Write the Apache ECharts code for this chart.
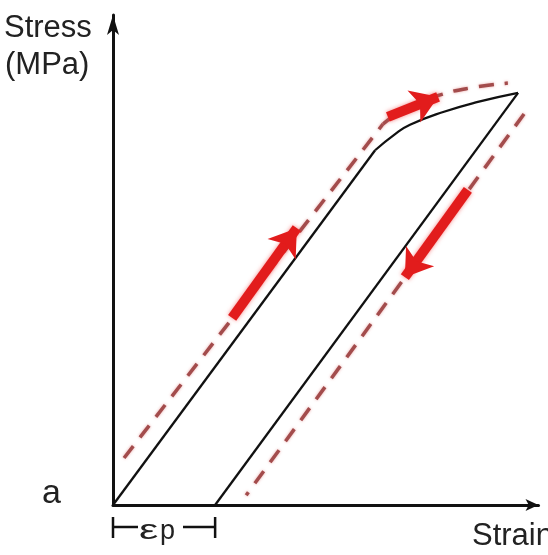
<!DOCTYPE html>
<html>
<head>
<meta charset="utf-8">
<script src="https://cdn.jsdelivr.net/npm/echarts@6/dist/echarts.min.js"></script>
<style>
html,body{margin:0;padding:0;background:#fff;}
#c{width:548px;height:555px;}
</style>
</head>
<body>
<div id="c"></div>
<script>
// Data (arbitrary strain / stress units, axes 0..100)
const loadingLine = [[0, 0], [61.6, 72.4]];
const hardeningCurve = [[61.6, 72.4], [66.3, 75.7], [69.8, 77.6], [77.6, 80.2], [85.5, 82.2], [95.2, 84.1]];
const unloadingLine = [[95.2, 84.1], [24.0, 0]];
const dashedLoading = [[2.6, 9.6], [63.5, 77.8]];
const dashedCurve = [[63.5, 77.8], [69.8, 81.4], [76.9, 83.7], [83.9, 85.1], [92.8, 86.1]];
const dashedUnloading = [[96.6, 79.8], [31.3, 2.0]];
const arrowLoading = [[28.0, 38.2], [43.2, 56.5]];
const arrowHardening = [[64.6, 79.2], [76.4, 83.3]];
const arrowUnloading = [[83.4, 64.3], [68.6, 46.5]];
const plasticStrain = 24.0;
const yTitle = ['Stress', '(MPa)'];
const xTitle = 'Strain';
const panelLabel = 'a';
const strainSymbol = 'ε';
const strainSub = 'p';

const chart = echarts.init(document.getElementById('c'), null, {renderer: 'canvas'});
const FONT = '"Liberation Sans", Arial, sans-serif';
const black = '#111';
const dashColor = '#a34c4c';
const red = '#e21c1c';

function solid(data, smooth) {
  return {type: 'line', data: data, smooth: smooth || false, symbol: 'none', silent: true,
    lineStyle: {color: black, width: 2.3}, z: 3};
}
function dashed(data, smooth) {
  return {type: 'line', data: data, smooth: smooth || false, symbol: 'none', silent: true,
    lineStyle: {color: dashColor, width: 3.5, type: [15, 11], shadowBlur: 3, shadowColor: 'rgba(220,110,110,0.6)'}, z: 2};
}
function arrow(data) {
  return {type: 'lines', coordinateSystem: 'cartesian2d', silent: true,
    symbol: ['none', 'arrow'], symbolSize: [30, 26],
    lineStyle: {color: red, width: 10, opacity: 1, curveness: 0, shadowBlur: 4, shadowColor: 'rgba(240,60,60,0.6)'},
    data: [{coords: data}], z: 4};
}

const axisCommon = {
  type: 'value', min: 0, max: 100,
  axisTick: {show: false}, axisLabel: {show: false}, splitLine: {show: false}
};

chart.setOption({
  animation: false,
  backgroundColor: '#fff',
  grid: {left: 113, right: 9.5, top: 15, bottom: 50, containLabel: false},
  xAxis: Object.assign({}, axisCommon, {
    axisLine: {show: true, symbol: ['none', 'arrow'], symbolSize: [9, 13], lineStyle: {color: black, width: 3}}
  }),
  yAxis: Object.assign({}, axisCommon, {
    axisLine: {show: true, symbol: ['none', 'arrow'], symbolSize: [9, 20], lineStyle: {color: black, width: 3}}
  }),
  series: [
    solid(loadingLine), solid(hardeningCurve, true), solid(unloadingLine),
    dashed(dashedLoading), dashed(dashedCurve, true), dashed(dashedUnloading),
    arrow(arrowLoading), arrow(arrowHardening), arrow(arrowUnloading)
  ]
});

const p0 = chart.convertToPixel({gridIndex: 0}, [0, 0]);
const p1 = chart.convertToPixel({gridIndex: 0}, [plasticStrain, 0]);
const tickTop = p0[1] + 12, tickBot = p0[1] + 33, barY = p0[1] + 22;
const lineStyle = {stroke: black, lineWidth: 2.5};

chart.setOption({
  graphic: [
    {type: 'text', left: 4, top: 13, style: {text: yTitle[0], font: '31px ' + FONT, fill: '#222'}},
    {type: 'text', left: 5, top: 50, style: {text: yTitle[1], font: '31px ' + FONT, fill: '#222'}},
    {type: 'text', left: 472, top: 521, style: {text: xTitle, font: '31px ' + FONT, fill: '#222'}},
    {type: 'text', left: 42, top: 477, style: {text: panelLabel, font: '34px ' + FONT, fill: '#222'}},
    {type: 'text', x: 139, y: 518, scaleX: 1.6, style: {text: strainSymbol, font: '27px ' + FONT, fill: '#222'}},
    {type: 'text', left: 160, top: 518, style: {text: strainSub, font: '27px ' + FONT, fill: '#222'}},
    {type: 'line', shape: {x1: p0[0], y1: tickTop, x2: p0[0], y2: tickBot}, style: lineStyle},
    {type: 'line', shape: {x1: p1[0], y1: tickTop, x2: p1[0], y2: tickBot}, style: lineStyle},
    {type: 'line', shape: {x1: p0[0], y1: barY, x2: 138, y2: barY}, style: lineStyle},
    {type: 'line', shape: {x1: 183, y1: barY, x2: p1[0], y2: barY}, style: lineStyle}
  ]
});
</script>
</body>
</html>
